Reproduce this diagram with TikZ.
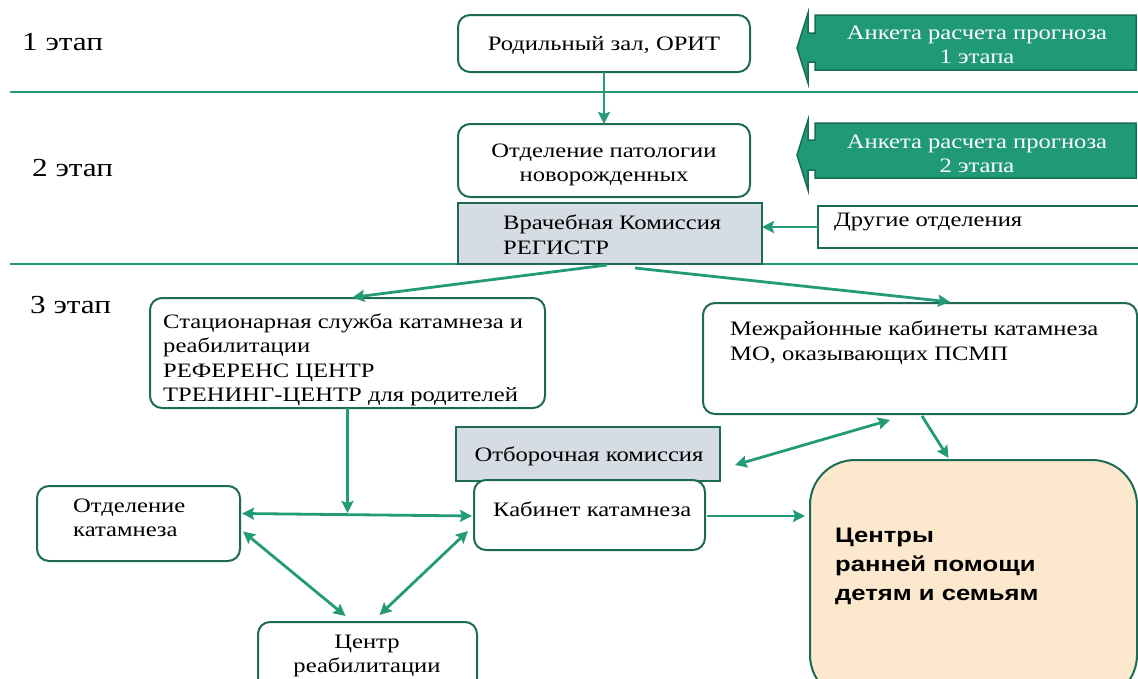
\documentclass[tikz,border=0pt]{standalone}
\usepackage{fontspec}
\setmainfont[FakeStretch=1.2]{Liberation Serif}
\newfontfamily\boldsans[FakeStretch=1.22]{Liberation Sans}
\usetikzlibrary{arrows.meta,calc}
\definecolor{connc}{HTML}{239B78}
\definecolor{bord}{HTML}{1E6B55}
\definecolor{ank}{HTML}{209A76}
\definecolor{ankb}{HTML}{186E54}
\definecolor{grayf}{HTML}{D6DCE4}
\definecolor{peach}{HTML}{FBE8CD}
\begin{document}
\begin{tikzpicture}[x=1pt,y=-1pt,
 box/.style={draw=bord, line width=2pt, rounded corners=12pt, fill=white, inner sep=0pt, outer sep=0pt, anchor=north west},
 gbox/.style={draw=bord, line width=2pt, fill=grayf, inner sep=0pt, outer sep=0pt, anchor=north west},
 txt/.style={font=\fontsize{20.5}{24.5}\selectfont, inner sep=0pt, align=left},
 ctxt/.style={font=\fontsize{20.5}{24.5}\selectfont, align=center},
 stage/.style={font=\fontsize{26}{30}\selectfont, inner sep=0pt, anchor=west},
 sep/.style={draw=connc, line width=2pt},
 conn/.style={draw=connc, line width=2.8pt, -{Stealth[length=12pt,width=12pt,inset=2pt]}},
 dconn/.style={draw=connc, line width=2.8pt, {Stealth[length=12pt,width=12pt,inset=2pt]}-{Stealth[length=12pt,width=12pt,inset=2pt]}}
]
\useasboundingbox (0,0) rectangle (1138,678);
\clip (0,0) rectangle (1138,678);

% separators
\draw[sep] (10,92) -- (1138,92);
\draw[sep] (10,264) -- (1138,264);

% stage labels
\node[stage] (s1) at (22,42) {1 этап};
\node[stage] (s2) at (32,168) {2 этап};
\node[stage] (s3) at (30,305) {3 этап};

% Anketa arrows
\filldraw[fill=ank, draw=ankb, line width=1.5pt]
  (1136,15) -- (815,15) -- (815,33) -- (808,33) -- (808,13) -- (797,48) -- (808,83) -- (808,62) -- (815,62) -- (815,70) -- (1136,70) -- cycle;
\node[ctxt, text=white, inner sep=0pt] (ank1) at (977,45) {Анкета расчета прогноза\\1 этапа};
\filldraw[fill=ank, draw=ankb, line width=1.5pt]
  (1136,123) -- (815,123) -- (815,140) -- (808,140) -- (808,120) -- (797,155) -- (808,190) -- (808,170) -- (815,170) -- (815,178) -- (1136,178) -- cycle;
\node[ctxt, text=white, inner sep=0pt] (ank2) at (977,154) {Анкета расчета прогноза\\2 этапа};

% stage 1-2 boxes
\node[box, minimum width=292pt, minimum height=57pt] (rod) at (458,15) {};
\node[ctxt, inner sep=0pt] (rodt) at (604,45) {Родильный зал, ОРИТ};
\node[box, minimum width=292pt, minimum height=73pt] (pat) at (458,124) {};
\node[ctxt, inner sep=0pt] (patt) at (604,165) {Отделение патологии\\новорожденных};
\node[gbox, minimum width=304pt, minimum height=61pt] (vrach) at (458,203) {};
\node[txt, anchor=west] (vracht) at (503,235) {Врачебная Комиссия\\РЕГИСТР};
\node[draw=bord, line width=2pt, fill=white, inner sep=0pt, outer sep=0pt, anchor=north west, minimum width=330pt, minimum height=42pt] (drug) at (818,206) {};
\node[txt, anchor=west] (drugt) at (834,222) {Другие отделения};

% stage 3 boxes
\node[box, minimum width=395pt, minimum height=110pt] (stac) at (150,298) {};
\node[txt, anchor=west] (stact) at (163,360) {Стационарная служба катамнеза и\\реабилитации\\РЕФЕРЕНС ЦЕНТР\\ТРЕНИНГ-ЦЕНТР для родителей};
\node[box, minimum width=434pt, minimum height=111pt] (mezh) at (703,303) {};
\node[txt, anchor=west] (mezht) at (730,343) {Межрайонные кабинеты катамнеза\\МО, оказывающих ПСМП};
\node[gbox, minimum width=264pt, minimum height=54pt] (otbor) at (456,427) {};
\node[ctxt, inner sep=0pt] (otbort) at (589,456) {Отборочная комиссия};
\node[box, minimum width=231pt, minimum height=70pt] (kab) at (474,480) {};
\node[txt, anchor=west] (kabt) at (493,509) {Кабинет катамнеза};
\node[box, minimum width=203pt, minimum height=75pt] (otdk) at (37,486) {};
\node[txt, anchor=west] (otdkt) at (73,518) {Отделение\\катамнеза};
\node[box, minimum width=219pt, minimum height=80pt] (reab) at (258,622) {};
\node[ctxt, inner sep=0pt] (reabt) at (367,656) {Центр\\реабилитации};
\node[box, rounded corners=45pt, fill=peach, minimum width=327pt, minimum height=240pt] (cent) at (810,460) {};
\node[inner sep=0pt, anchor=west, align=left, font=\boldsans\bfseries\fontsize{21}{29}\selectfont] (centt) at (835,566) {Центры\\ранней помощи\\детям и семьям};

% connectors
\draw[conn] (rod.south) -- (pat.north);
\draw[conn] (drug.west) -- (drug.west -| vrach.east);
\draw[conn, shorten >=5pt] ($(vrach.south)+(-3,1)$) -- (stac.north);
\draw[conn, shorten >=10pt] ($(vrach.south)+(25,4)$) -- ($(mezh.north)+(40,0)$);
\coordinate (junc) at ($(stac.south)+(0,105)$);
\draw[conn] (stac.south) -- (junc);
\draw[dconn] ($(otdk.east)+(2,-10)$) -- ($(kab.west)+(-2,1)$);
\draw[dconn] ($(otdk.east)+(3,8)$) -- ($(reab.north)+(-22,-6)$);
\draw[dconn] ($(kab.west)+(-6,16)$) -- ($(reab.north)+(12,-7)$);
\draw[dconn] ($(mezh.south)+(-30,6)$) -- ($(otbor.east)+(15,11)$);
\draw[conn] ($(mezh.south)+(2,2)$) -- ($(cent.north)+(-25,-2)$);
\draw[conn] ($(kab.east)+(2,1)$) -- ($(kab.east -| cent.west)+(-5,1)$);
\end{tikzpicture}
\end{document}
